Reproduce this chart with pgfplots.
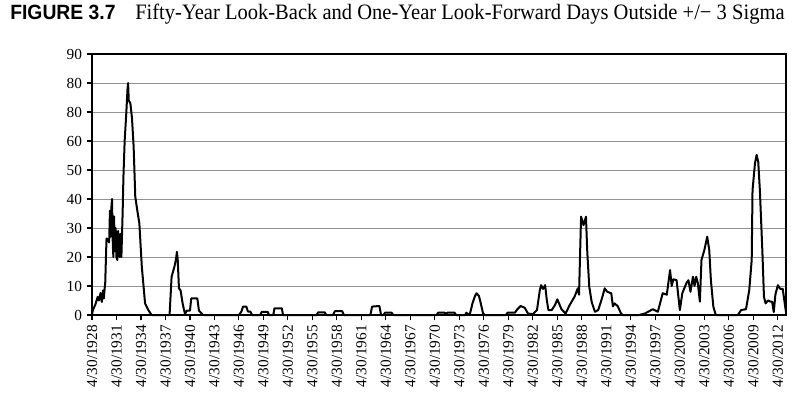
\documentclass[border=0pt]{standalone}
\usepackage{pgfplots}
\pgfplotsset{compat=1.18}
\usepackage{graphicx}
\usepackage{fontspec}
\setmainfont{Liberation Serif}
\newfontfamily\figfont{Liberation Sans}
\begin{document}
\begin{tikzpicture}[x=1pt,y=1pt]
\begin{axis}[
  name=ax,
  scale only axis,
  width=520.5pt, height=195.75pt,
  xmin=1928, xmax=2013,
  ymin=0, ymax=90,
  axis line style={black, line width=0.8pt},
  ytick={0,10,...,90},
  yticklabels={0,10,20,30,40,50,60,80,80,90},
  xtick={1928,1931,...,2012},
  xticklabels={4/30/1928,4/30/1931,4/30/1934,4/30/1937,4/30/1940,4/30/1943,4/30/1946,4/30/1949,4/30/1952,4/30/1955,4/30/1958,4/30/1961,4/30/1964,4/30/1967,4/30/1970,4/30/1973,4/30/1976,4/30/1979,4/30/1982,4/30/1985,4/30/1988,4/30/1991,4/30/1994,4/30/1997,4/30/2000,4/30/2003,4/30/2006,4/30/2009,4/30/2012},
  x tick label style={rotate=90, anchor=east, font=\fontsize{11.5}{13}\selectfont},
  y tick label style={font=\fontsize{11.5}{13}\selectfont},
  /pgf/number format/assume math mode=true,
  tick align=outside,
  major tick length=4pt,
  tick style={black, line width=0.8pt},
  xtick pos=bottom, ytick pos=left,
  ymajorgrids,
  grid style={gray!85, line width=0.6pt},
  clip=false,
]
\addplot[black, line width=1.5pt, line join=round] coordinates {
(1928.0,0) (1928.1,1.7) (1928.4,3.5) (1928.7,6.3) (1928.85,5) (1929.05,7.6) (1929.2,4.5) (1929.35,8.5) (1929.45,5.7) (1929.55,9.2) (1929.62,11) (1929.7,19) (1929.78,26.4) (1929.95,26) (1930.1,25) (1930.2,36) (1930.28,27) (1930.35,36) (1930.45,40) (1930.55,24) (1930.62,20) (1930.7,34) (1930.8,22) (1930.9,30) (1931.0,20) (1931.1,19) (1931.2,29) (1931.3,24) (1931.4,20) (1931.5,28) (1931.6,20) (1931.75,35) (1931.85,47.7) (1932.0,60) (1932.2,69.6) (1932.35,78) (1932.42,80) (1932.5,74) (1932.7,73) (1932.9,67.8) (1933.1,58) (1933.3,40.8) (1933.55,36) (1933.8,31.6) (1934.1,16.7) (1934.5,4) (1934.9,1.7) (1935.3,0)
(1937.5,0) (1937.75,13.2) (1938.1,16.7) (1938.3,19.5) (1938.4,21.8) (1938.5,19) (1938.65,9.2) (1938.85,8.5) (1939.1,4) (1939.25,2) (1939.4,0.3) (1939.6,1.5) (1940.0,1.5) (1940.15,5.7) (1940.9,5.7) (1941.1,1.5) (1941.6,0)
(1946.0,0) (1946.3,1.2) (1946.5,2.9) (1946.9,2.9) (1947.1,1.2) (1947.4,1.2) (1947.6,0)
(1948.6,0) (1948.8,1.1) (1949.5,1.1) (1949.7,0)
(1950.2,0) (1950.35,2.3) (1951.25,2.3) (1951.4,0)
(1955.5,0) (1955.7,0.9) (1956.5,0.9) (1956.7,0)
(1957.5,0) (1957.75,1.3) (1958.65,1.3) (1958.85,0)
(1962.1,0) (1962.3,2.9) (1963.2,3.1) (1963.4,0)
(1963.7,0) (1963.9,0.8) (1964.7,0.8) (1964.9,0)
(1970.2,0) (1970.4,0.8) (1971.2,0.8) (1971.35,0) (1971.5,0.8) (1972.4,0.8) (1972.6,0)
(1973.7,0) (1973.85,0.8) (1974.0,0.3) (1974.3,0.5) (1974.6,4) (1974.9,6.5) (1975.1,7.5) (1975.4,6.5) (1975.7,3) (1975.9,0.5) (1976.1,0)
(1978.7,0) (1978.9,0.8) (1979.8,0.8) (1980.1,2) (1980.5,3.1) (1981.0,2.5) (1981.4,0.5) (1982.0,0.3) (1982.5,1.7) (1982.85,8.6) (1983.0,10.3) (1983.25,9) (1983.5,10.3) (1983.7,5.2) (1983.9,1.7) (1984.3,1.7) (1984.7,3.4) (1985.0,5.4) (1985.2,4) (1985.5,2) (1986.0,0.5) (1986.5,3.4) (1987.1,6.3) (1987.5,9.2) (1987.65,7) (1987.9,33.9) (1988.2,31) (1988.5,33.9) (1988.65,22.4) (1988.9,9.8) (1989.2,4.5) (1989.6,1.1) (1990.0,1.7) (1990.4,5.2) (1990.8,9.2) (1991.1,8) (1991.6,7.5) (1991.8,3) (1992.0,4) (1992.4,3) (1992.8,0.5) (1993.0,0)
(1995.0,0) (1995.7,0.5) (1996.1,1.1) (1996.7,2) (1997.3,1.1) (1997.9,7.5) (1998.4,7) (1998.8,15.5) (1999.0,10) (1999.2,12.3) (1999.6,12) (2000.0,1.7) (2000.3,7.5) (2000.8,11) (2001.05,12) (2001.3,8) (2001.6,13.2) (2001.8,10) (2002.0,13.2) (2002.2,11) (2002.45,4.6) (2002.65,19) (2003.0,22.4) (2003.35,27) (2003.6,22.4) (2003.8,12) (2004.1,2.9) (2004.4,0)
(2007.1,0) (2007.5,1.7) (2008.1,2) (2008.5,8.6) (2008.8,19) (2008.9,43) (2009.2,52.3) (2009.4,55.2) (2009.6,52.8) (2009.8,43) (2010.1,22.4) (2010.3,6.3) (2010.5,4) (2010.8,5) (2011.1,4.6) (2011.3,4.6) (2011.5,1) (2011.7,7) (2012.0,10.3) (2012.3,9) (2012.6,9) (2012.9,2.9) (2013.0,1)
};
\end{axis}
\node[anchor=base west, inner sep=0pt] at ([xshift=-61.5pt, yshift=26pt]ax.north west)
  {\resizebox{79pt}{\height}{\figfont\bfseries\fontsize{15.5}{17}\selectfont FIGURE 3.7}};
\node[anchor=base west, inner sep=0pt] at ([xshift=32.25pt, yshift=26pt]ax.north west)
  {\resizebox{487pt}{\height}{\fontsize{16.5}{18}\selectfont Fifty-Year Look-Back and One-Year Look-Forward Days Outside +/\textminus{} 3 Sigma}};
\pgfresetboundingbox
\path[use as bounding box] ([xshift=-69pt, yshift=-63.75pt]ax.south west) rectangle ([xshift=10.5pt, yshift=40.5pt]ax.north east);
\end{tikzpicture}
\end{document}
